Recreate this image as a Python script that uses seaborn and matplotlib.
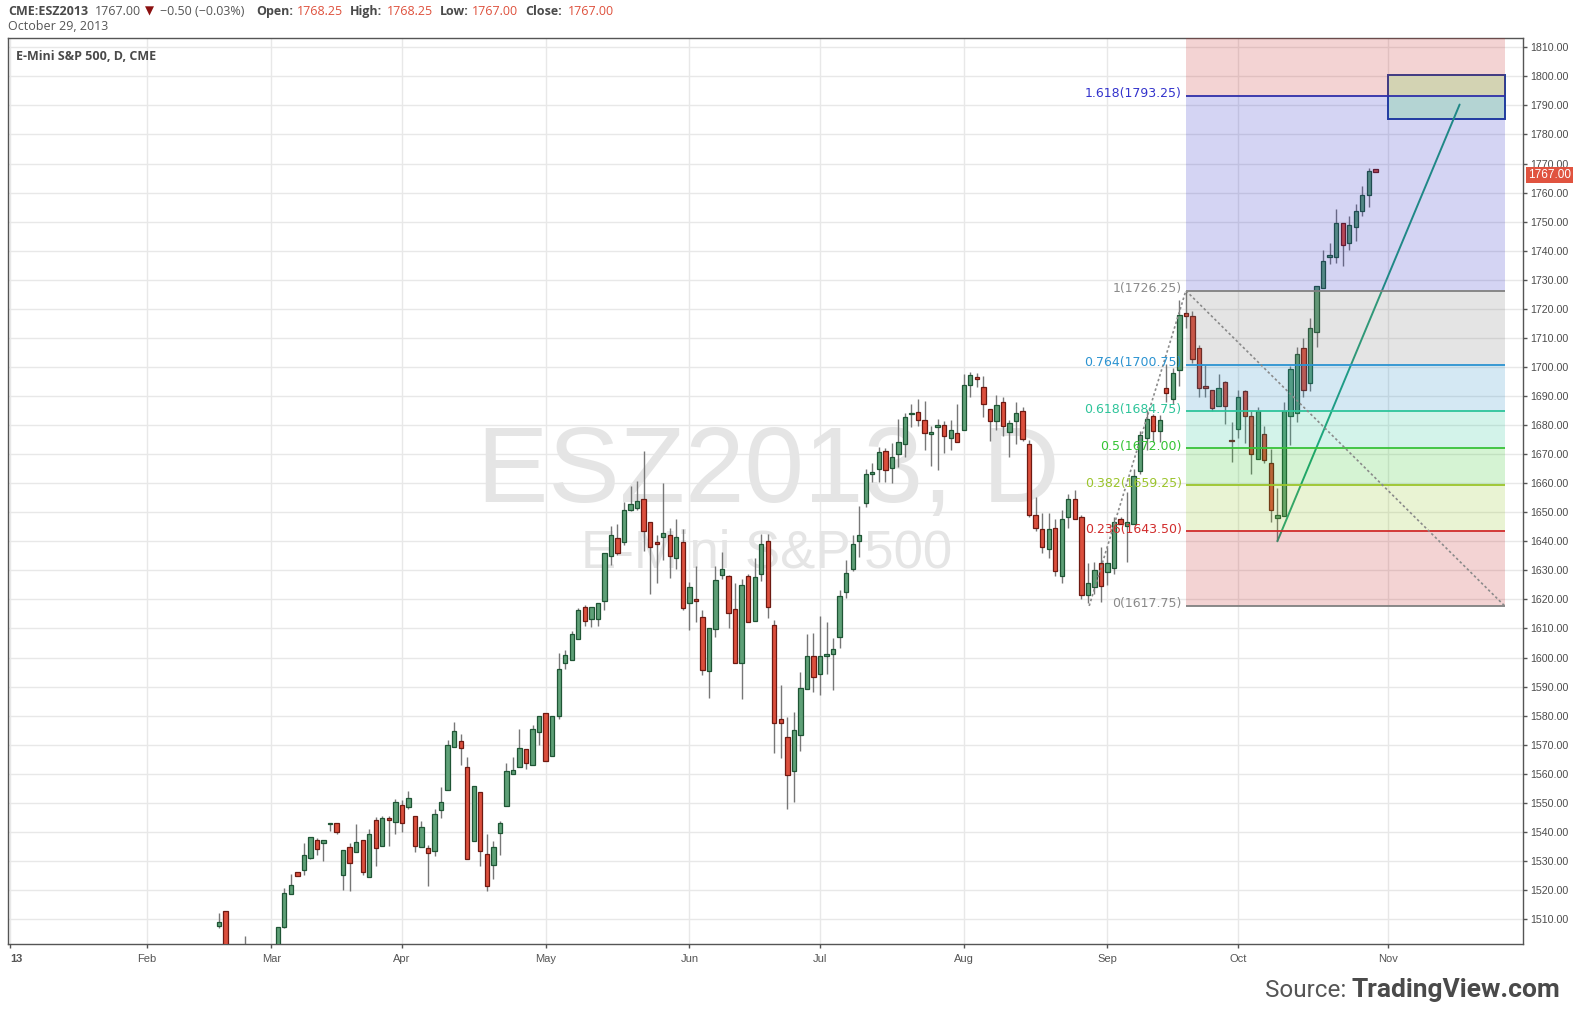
import matplotlib.pyplot as plt
from matplotlib.patches import Rectangle
import pandas as pd
import seaborn as sns

W, H = 1575, 1015

# trading session number (0 = Jan 2, 2013) of every visible daily candle
session = [32, 33, 36] + list(range(41, 210))

open_ = [
    1507.7, 1512.6, 1499.5,
    1497.0, 1507.4, 1518.7, 1526.1, 1526.7, 1530.9, 1537.1, 1536.1, 1542.6, 1543.0,
    1525.1, 1534.7, 1533.2, 1537.1, 1524.4, 1544.0, 1535.1, 1544.7, 1543.5, 1549.1,
    1548.4, 1545.3, 1534.8, 1534.5, 1533.4, 1547.6, 1554.5, 1569.3, 1571.4, 1562.4,
    1536.9, 1553.8, 1532.4, 1528.5, 1539.7, 1549.0, 1560.0, 1562.4, 1568.6, 1563.1,
    1574.5, 1581.0, 1566.2, 1580.0, 1598.2, 1599.3, 1606.5, 1617.5, 1613.4, 1613.1,
    1619.6, 1635.1, 1641.0, 1639.6, 1650.9, 1651.3, 1654.7, 1646.8, 1639.9, 1641.3,
    1642.3, 1634.1, 1639.6, 1618.9, 1620.3, 1614.1, 1595.5, 1609.7, 1628.3, 1627.9,
    1616.6, 1598.0, 1627.9, 1612.4, 1628.6, 1640.0, 1611.1, 1579.0, 1572.8, 1560.8,
    1573.5, 1589.0, 1600.4, 1594.2, 1600.4, 1601.1, 1606.9, 1622.4, 1630.4, 1640.1,
    1653.3, 1663.2, 1664.9, 1671.1, 1665.3, 1670.1, 1673.5, 1683.9, 1684.5, 1681.8,
    1677.0, 1679.4, 1680.1, 1675.6, 1677.3, 1678.4, 1693.8, 1696.6, 1693.1, 1685.6,
    1681.4, 1688.0, 1677.7, 1681.4, 1685.0, 1673.6, 1648.9, 1644.1, 1637.5, 1644.4,
    1627.9, 1648.5, 1654.4, 1648.5, 1621.4, 1624.1, 1632.4, 1629.3, 1630.7, 1647.8,
    1645.1, 1646.1, 1664.2, 1675.7, 1683.2, 1678.0, 1692.9, 1689.1, 1699.0, 1718.4,
    1717.4, 1706.4, 1693.3, 1692.2, 1686.4, 1694.7, 1675.0, 1678.5, 1691.6, 1683.0,
    1668.2, 1676.8, 1667.1, 1647.9, 1648.6, 1683.0, 1684.0, 1706.4, 1694.3, 1711.9,
    1727.3, 1738.0, 1737.7, 1749.4, 1742.8, 1748.0, 1753.8, 1759.0, 1768.25,
]
high = [
    1512.0, 1512.6, 1504.1,
    1507.1, 1520.7, 1525.5, 1526.1, 1536.2, 1538.2, 1537.9, 1537.1, 1543.2, 1543.0,
    1533.7, 1536.2, 1542.8, 1537.1, 1541.0, 1545.2, 1545.5, 1545.4, 1551.4, 1551.0,
    1554.0, 1545.3, 1543.9, 1535.6, 1548.0, 1555.6, 1571.5, 1577.7, 1573.8, 1565.6,
    1555.9, 1553.8, 1539.1, 1537.0, 1543.6, 1563.6, 1565.6, 1575.3, 1568.6, 1576.6,
    1579.7, 1581.0, 1580.0, 1601.5, 1602.6, 1609.1, 1617.0, 1618.0, 1617.5, 1618.6,
    1636.1, 1645.1, 1646.1, 1653.4, 1658.9, 1660.6, 1670.9, 1646.8, 1642.0, 1660.2,
    1644.7, 1647.8, 1644.1, 1626.1, 1631.4, 1616.2, 1610.3, 1631.4, 1636.2, 1628.3,
    1625.5, 1626.9, 1628.6, 1634.1, 1642.5, 1642.5, 1612.8, 1590.4, 1579.4, 1581.1,
    1594.9, 1608.0, 1608.3, 1614.2, 1612.1, 1606.6, 1623.1, 1633.5, 1642.1, 1652.0,
    1665.0, 1667.1, 1672.5, 1672.2, 1673.9, 1682.2, 1684.0, 1687.1, 1689.1, 1688.4,
    1679.7, 1682.1, 1681.4, 1681.9, 1687.4, 1697.6, 1698.3, 1698.0, 1696.9, 1685.6,
    1690.5, 1689.5, 1681.8, 1688.0, 1686.3, 1675.0, 1655.1, 1649.9, 1649.9, 1647.8,
    1650.6, 1656.4, 1657.8, 1648.9, 1632.4, 1632.7, 1637.9, 1637.9, 1648.2, 1648.5,
    1657.1, 1665.0, 1678.0, 1685.2, 1683.9, 1683.6, 1701.1, 1699.7, 1723.2, 1726.25,
    1719.4, 1707.4, 1700.5, 1692.2, 1697.4, 1695.3, 1680.9, 1692.2, 1691.9, 1684.7,
    1686.1, 1679.5, 1671.6, 1658.2, 1687.8, 1700.2, 1706.7, 1709.8, 1717.0, 1728.0,
    1740.4, 1742.5, 1754.5, 1749.4, 1751.8, 1755.9, 1762.1, 1768.6, 1768.25,
]
low = [
    1507.0, 1498.0, 1497.0,
    1496.0, 1507.0, 1518.5, 1524.7, 1525.1, 1530.5, 1532.2, 1530.1, 1540.2, 1539.4,
    1520.1, 1519.8, 1532.9, 1525.0, 1524.4, 1528.4, 1535.0, 1535.3, 1539.4, 1540.0,
    1548.0, 1533.1, 1534.8, 1521.3, 1531.6, 1544.7, 1554.5, 1569.3, 1563.0, 1530.7,
    1536.9, 1528.2, 1519.7, 1523.7, 1532.0, 1549.0, 1560.0, 1562.4, 1561.7, 1563.1,
    1570.0, 1564.5, 1566.2, 1579.0, 1596.1, 1599.3, 1606.5, 1610.9, 1610.6, 1610.9,
    1616.2, 1632.0, 1635.4, 1638.8, 1650.3, 1650.6, 1636.5, 1621.7, 1625.8, 1633.4,
    1627.2, 1630.3, 1616.2, 1609.6, 1612.3, 1594.0, 1586.2, 1607.0, 1627.0, 1610.3,
    1598.0, 1585.8, 1612.1, 1612.4, 1626.2, 1613.5, 1567.3, 1565.3, 1547.7, 1550.1,
    1567.7, 1589.0, 1588.3, 1587.0, 1594.2, 1588.7, 1603.1, 1620.4, 1629.7, 1634.7,
    1651.8, 1660.3, 1660.3, 1660.3, 1659.9, 1665.6, 1669.1, 1679.4, 1679.7, 1671.5,
    1666.0, 1664.6, 1670.4, 1671.5, 1674.2, 1678.4, 1689.7, 1693.1, 1682.8, 1674.6,
    1678.4, 1676.3, 1669.1, 1673.5, 1674.6, 1648.5, 1643.7, 1635.8, 1634.4, 1627.9,
    1625.5, 1644.4, 1647.5, 1620.3, 1618.6, 1621.7, 1619.0, 1624.8, 1628.9, 1646.1,
    1632.7, 1646.1, 1663.3, 1671.3, 1674.2, 1674.2, 1688.0, 1687.4, 1693.6, 1713.3,
    1701.5, 1689.8, 1689.8, 1684.7, 1686.4, 1680.2, 1667.4, 1675.7, 1673.7, 1663.0,
    1668.2, 1666.8, 1646.5, 1640.0, 1648.6, 1673.3, 1681.2, 1689.8, 1691.6, 1706.7,
    1727.3, 1735.3, 1735.9, 1734.9, 1740.4, 1743.2, 1751.8, 1754.9, 1767.0,
]
close = [
    1508.9, 1499.0, 1498.5,
    1507.1, 1518.9, 1521.6, 1524.7, 1532.0, 1538.2, 1534.0, 1537.1, 1542.9, 1540.1,
    1533.7, 1529.2, 1536.4, 1526.1, 1539.2, 1534.4, 1544.7, 1544.0, 1550.1, 1542.9,
    1551.6, 1535.3, 1541.7, 1532.8, 1546.2, 1550.3, 1570.0, 1574.8, 1569.0, 1530.7,
    1555.9, 1533.4, 1521.3, 1534.8, 1543.1, 1561.0, 1561.4, 1569.0, 1563.8, 1575.5,
    1579.7, 1564.5, 1580.0, 1596.0, 1601.0, 1608.2, 1616.5, 1612.4, 1617.5, 1618.6,
    1636.1, 1642.3, 1636.1, 1650.9, 1652.7, 1653.7, 1643.7, 1638.2, 1638.9, 1642.7,
    1635.1, 1641.6, 1617.2, 1624.1, 1619.3, 1595.8, 1610.3, 1626.6, 1630.4, 1615.2,
    1598.0, 1624.8, 1612.1, 1627.6, 1639.0, 1617.3, 1577.3, 1577.3, 1559.7, 1574.9,
    1589.4, 1600.4, 1593.2, 1600.4, 1601.1, 1602.8, 1621.1, 1629.0, 1639.0, 1642.0,
    1663.2, 1663.9, 1670.8, 1664.6, 1669.1, 1674.2, 1682.8, 1684.1, 1681.8, 1677.3,
    1677.7, 1680.1, 1676.3, 1678.4, 1674.2, 1693.8, 1697.3, 1695.9, 1687.3, 1681.4,
    1686.9, 1679.7, 1680.8, 1684.2, 1675.3, 1649.2, 1644.4, 1638.2, 1644.1, 1629.6,
    1647.8, 1654.7, 1647.5, 1621.4, 1625.5, 1630.0, 1624.5, 1632.4, 1646.5, 1646.1,
    1646.8, 1662.6, 1676.6, 1682.2, 1678.0, 1681.9, 1691.1, 1698.0, 1717.7, 1717.4,
    1702.6, 1692.6, 1692.6, 1685.7, 1692.6, 1686.4, 1674.4, 1689.5, 1683.0, 1669.9,
    1684.7, 1667.8, 1650.6, 1648.9, 1684.7, 1699.4, 1704.3, 1691.9, 1713.5, 1727.7,
    1736.6, 1738.3, 1749.4, 1741.8, 1748.7, 1753.8, 1759.0, 1767.6, 1767.0,
]

month_ticks = [0, 21, 40, 60, 82, 104, 124, 146, 168, 188, 211]
month_labels = ["13", "Feb", "Mar", "Apr", "May", "Jun", "Jul", "Aug", "Sep",
                "Oct", "Nov"]

# Fibonacci retracement drawn from the Aug low to the Sep high
fib_levels = [0, 0.236, 0.382, 0.5, 0.618, 0.764, 1, 1.618]
fib_prices = [1617.75, 1643.50, 1659.25, 1672.00, 1684.75, 1700.75, 1726.25,
              1793.25]
fib_start, fib_end = 180, 228.8
fib_trend_x = [165.2, 180, 228.8]
fib_trend_y = [1617.75, 1726.25, 1617.75]

# projection line from the Oct low and target box
proj_x = [194, 221.9]
proj_y = [1640.0, 1790.3]
box_x = [210.9, 228.8]
box_y = [1785.2, 1800.5]

last_price = 1767.00


def main():
    sns.set_theme(style="white")
    plt.rcParams["font.family"] = ["Liberation Sans", "DejaVu Sans"]

    df = pd.DataFrame({"session": session, "open": open_, "high": high,
                       "low": low, "close": close})
    df["up"] = df.close >= df.open
    df["body_lo"] = df[["open", "close"]].min(axis=1)
    df["body_h"] = (df.close - df.open).abs().clip(lower=0.35)

    fig = plt.figure(figsize=(W / 100, H / 100), dpi=100)
    ax = fig.add_axes([8 / W, 1 - 944.3 / H, 1515 / W, 906.3 / H])
    ax.set_xlim(-0.29, 231.6)
    ax.set_ylim(1501.3, 1813.2)

    # grid
    ax.set_xticks(month_ticks, month_labels)
    ax.set_yticks(range(1510, 1811, 10))
    ax.yaxis.set_major_formatter(plt.FormatStrFormatter("%.2f"))
    ax.grid(True, color="#e8e8e8", lw=1)
    ax.set_axisbelow(True)

    # watermark
    ax.text(768 / W, 1 - 502 / H, "ESZ2013, D", transform=fig.transFigure,
            fontsize=77, color="#e5e5e5", ha="center", va="baseline",
            family="Liberation Sans", zorder=0.8)
    ax.text(767 / W, 1 - 568 / H, "E-Mini S&P 500", transform=fig.transFigure,
            fontsize=38, color="#e5e5e5", ha="center", va="baseline",
            family="Liberation Sans", zorder=0.8)

    # candles
    ax.vlines(df.session, df.low, df.high, color="#777777", lw=1, zorder=2)
    up = df[df.up]
    dn = df[~df.up]
    ax.bar(up.session, up.body_h, bottom=up.body_lo, width=0.66,
           color="#5ea077", edgecolor="#1f5535", linewidth=0.9, zorder=3)
    ax.bar(dn.session, dn.body_h, bottom=dn.body_lo, width=0.66,
           color="#dc4f3d", edgecolor="#6e1a12", linewidth=0.9, zorder=3)

    # target box and projection line (under the fib shading)
    ax.add_patch(Rectangle((box_x[0], box_y[0]), box_x[1] - box_x[0],
                           box_y[1] - box_y[0], facecolor="#d8ffd8",
                           edgecolor="#1f3f9a", lw=1.4, zorder=2.5))
    sns.lineplot(x=proj_x, y=proj_y, ax=ax, color="#1ea078", lw=1.4,
                 zorder=3.6)

    # fib shading
    zone_colors = ["#c32323", "#91c323", "#2dc323", "#23c396", "#288cc3",
                   "#787878", "#2828c3", "#c32323"]
    tops = fib_prices[1:] + [ax.get_ylim()[1]]
    for lo, hi, c in zip(fib_prices, tops, zone_colors):
        ax.fill_between([fib_start, fib_end], lo, hi, color=c, alpha=0.2,
                        lw=0, zorder=4)

    line_colors = ["#808080", "#d12c2c", "#9bc42b", "#38c238", "#2dc49b",
                   "#2b93d1", "#808080", "#2f2fa8"]
    label_colors = ["#8a8a8a", "#d12c2c", "#9bc42b", "#33c433", "#2ec49a",
                    "#2b93d1", "#8a8a8a", "#3333cc"]
    for lvl, p, lc, tc in zip(fib_levels, fib_prices, line_colors,
                              label_colors):
        ax.hlines(p, fib_start, fib_end, color=lc, lw=1.3, zorder=5)
        ax.annotate(f"{lvl:g}({p:.2f})", xy=(fib_start, p), xytext=(-3, 1.5),
                    textcoords="offset points", ha="right", va="center",
                    fontsize=9, family="DejaVu Sans", color=tc, zorder=6)

    sns.lineplot(x=fib_trend_x, y=fib_trend_y, ax=ax, color="#8a8a8a",
                 lw=1.2, sort=False, zorder=5)
    ax.lines[-1].set_dashes((1.5, 1.5))

    # axes styling
    ax.yaxis.tick_right()
    ax.tick_params(axis="y", length=3, width=1, color="#555555", pad=2,
                   labelsize=7.7, labelcolor="#4d4d4d", right=True, left=False)
    ax.tick_params(axis="x", length=3, width=1, color="#555555", pad=4,
                   labelsize=8, labelcolor="#555555", bottom=True)
    xl = ax.get_xticklabels()
    xl[0].set_fontweight("bold")
    xl[0].set_horizontalalignment("left")
    for s in ax.spines.values():
        s.set_color("#555555")
        s.set_linewidth(1)

    # last price tag
    ax.annotate(f"{last_price:.2f}", xy=(1, last_price),
                xycoords=("axes fraction", "data"), xytext=(5, -2.5),
                textcoords="offset pixels", ha="left", va="center",
                fontsize=8.5, color="white", annotation_clip=False, zorder=10,
                bbox=dict(boxstyle="square,pad=0.18", fc="#e0533f", ec="none"))

    # chart title
    ax.text(16 / W, 1 - 57 / H, "E-Mini S&P 500, D, CME",
            transform=fig.transFigure, fontsize=9, fontweight="bold",
            color="#4a4a4a", family=["Open Sans", "DejaVu Sans"],
            ha="left", va="center", zorder=7)

    # header
    grey, red = "#4a4a4a", "#de503c"
    pieces = [
        (8.2, "CME:ESZ2013", "bold", grey),
        (94.7, "1767.00", "normal", "#555555"),
        (144.9, "\u25bc", "normal", "#8b1010"),
        (160.0, "\u22120.50 (\u22120.03%)", "normal", "#555555"),
        (255.9, "Open:", "bold", grey),
        (297.1, "1768.25", "normal", red),
        (350.2, "High:", "bold", grey),
        (386.9, "1768.25", "normal", red),
        (440.0, "Low:", "bold", grey),
        (472.2, "1767.00", "normal", red),
        (525.3, "Close:", "bold", grey),
        (568.2, "1767.00", "normal", red),
    ]
    for x, s, wt, c in pieces:
        fam = ["DejaVu Sans"] if s == "\u25bc" else ["Open Sans", "DejaVu Sans"]
        fig.text(x / W, 1 - 11.5 / H, s, fontsize=8.5 if s == "\u25bc" else 9,
                 fontweight=wt, color=c, family=fam, ha="left", va="center")
    fig.text(8.2 / W, 1 - 27 / H, "October 29, 2013", fontsize=9,
             color="#555555", family=["Open Sans", "DejaVu Sans"],
             ha="left", va="center")

    # source credit
    fig.text(1265 / W, 1 - 996.7 / H, "Source:", fontsize=17.5,
             color="#555555", family=["Roboto", "DejaVu Sans"],
             ha="left", va="baseline")
    fig.text(1560 / W, 1 - 996.7 / H, "TradingView.com", fontsize=19,
             fontweight="bold", color="#4a4a4a",
             family=["Roboto", "DejaVu Sans"], ha="right", va="baseline")

    fig.savefig("out.png", dpi=100)
    plt.close(fig)


if __name__ == "__main__":
    main()
